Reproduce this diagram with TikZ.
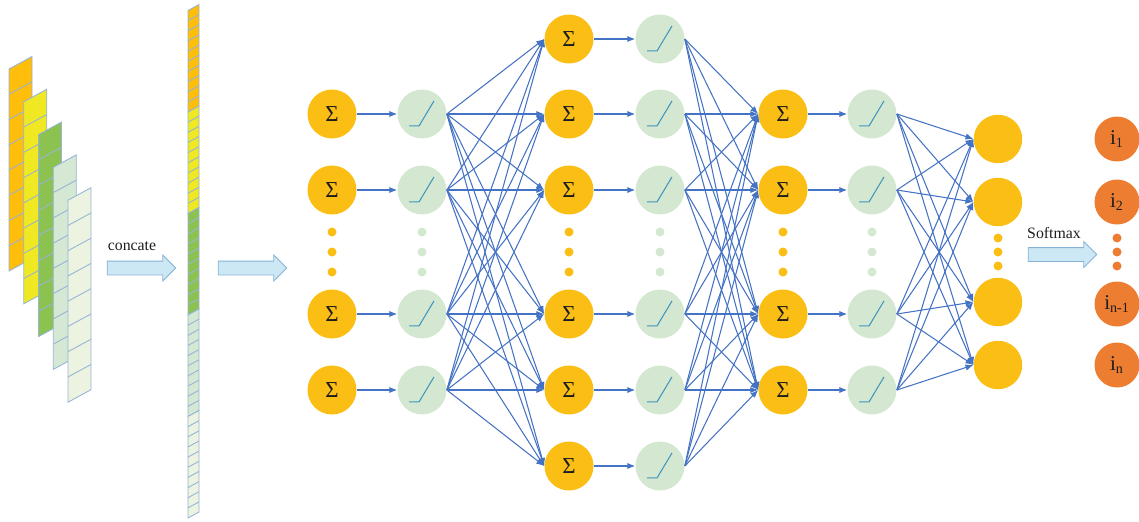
\documentclass[tikz,border=0pt]{standalone}
\usepackage{fontspec}
\setmainfont{Liberation Serif}
\usetikzlibrary{
  arrows.meta,
  shapes.arrows
}
\definecolor{sumcolor}{RGB}{250, 190, 20}
\definecolor{relucolor}{RGB}{212, 231, 208}
\definecolor{reluline}{RGB}{62, 150, 190}
\definecolor{edgecolor}{RGB}{68, 114, 196}
\definecolor{probcolor}{RGB}{237, 125, 49}
\definecolor{arrowfill}{RGB}{205, 232, 245}
\definecolor{arrowdraw}{RGB}{135, 178, 215}
\definecolor{cellline}{RGB}{150, 180, 215}
\definecolor{stripa}{RGB}{255, 190, 10}
\definecolor{stripb}{RGB}{240, 232, 35}
\definecolor{stripc}{RGB}{140, 195, 80}
\definecolor{stripd}{RGB}{213, 232, 212}
\definecolor{stripe}{RGB}{236, 243, 224}
\definecolor{labelcolor}{RGB}{30, 30, 30}
\tikzset{
sumblock/.style={
  circle,
  fill=sumcolor,
  minimum size=0.98cm,
  inner sep=0pt,
  font=\fontsize{13}{15}\selectfont,
  text=labelcolor
},
relublock/.style={
  circle,
  fill=relucolor,
  minimum size=0.98cm,
  inner sep=0pt,
  path picture={
    \draw[reluline, line width=0.6pt]
      ([shift={(-7.4pt,-6.8pt)}]path picture bounding box.center)
      -- ++(5.7pt,0pt) -- ++(8.5pt,14.2pt);
  }
},
outblock/.style={
  circle,
  fill=sumcolor,
  minimum size=0.97cm,
  inner sep=0pt
},
probblock/.style={
  circle,
  fill=probcolor,
  minimum size=0.9cm,
  inner sep=0pt,
  font=\fontsize{12}{14}\selectfont,
  text=labelcolor
},
sumdot/.style={
  circle,
  fill=sumcolor,
  minimum size=0.18cm,
  inner sep=0pt
},
reludot/.style={
  sumdot,
  fill=relucolor
},
probdot/.style={
  sumdot,
  fill=probcolor
},
bigarrow/.style={
  single arrow,
  draw=arrowdraw,
  fill=arrowfill,
  line width=0.5pt,
  minimum height=1.37cm,
  minimum width=0.5cm,
  single arrow head extend=0.12cm,
  inner xsep=0pt,
  inner ysep=0.13cm
},
steplabel/.style={
  font=\fontsize{9}{11}\selectfont,
  text=labelcolor
},
cell/.style={
  draw=cellline,
  line width=0.5pt
},
arrow/.style={
  -{Latex[length=4.5pt,width=3.6pt]},
  line width=0.6pt,
  draw=edgecolor
}
}
\begin{document}
\begin{tikzpicture}[x=0.02cm, y=-0.02cm]
  \useasboundingbox (0,0) rectangle (1139,521);

  % feature strips
  \foreach \c [count=\k from 0] in {stripa,stripb,stripc,stripd,stripe} {
    \pgfmathsetmacro{\sx}{9+14.75*\k}
    \pgfmathsetmacro{\sy}{69+32.8*\k}
    \filldraw[cell, fill=\c] (\sx,\sy) -- ++(23,-12.5) -- ++(0,202) -- ++(-23,12.5) -- cycle;
    \foreach \j in {1,...,7}
      \draw[cell] (\sx,\sy+25.25*\j) -- ++(23,-12.5);
  }

  % concatenated vector
  \foreach \c [count=\k from 0] in {stripa,stripb,stripc,stripd,stripe} {
    \pgfmathsetmacro{\ty}{10.5+101.5*\k}
    \filldraw[cell, fill=\c] (188,\ty) -- ++(11,-6) -- ++(0,101.5) -- ++(-11,6) -- cycle;
    \foreach \j in {1,...,9}
      \draw[cell] (188,\ty+10.15*\j) -- ++(11,-6);
  }

  \node[bigarrow] (cat) at (138,268) {};
  \node[steplabel] (catlabel) at (132,246) {concate};
  \node[bigarrow] (feed) at (249,268) {};

  % layer 1
  \foreach \y [count=\i] in {114,190,314,390} {
    \node[sumblock] (s1-\i) at (332,\y) {Σ};
    \node[relublock] (r1-\i) at (422,\y) {};
    \draw[arrow] (s1-\i) -- (r1-\i);
  }
  % layer 2
  \foreach \y [count=\i] in {39,114,190,314,390,466} {
    \node[sumblock] (s2-\i) at (569,\y) {Σ};
    \node[relublock] (r2-\i) at (660,\y) {};
    \draw[arrow] (s2-\i) -- (r2-\i);
  }
  % layer 3
  \foreach \y [count=\i] in {114,190,314,390} {
    \node[sumblock] (s3-\i) at (783,\y) {Σ};
    \node[relublock] (r3-\i) at (872,\y) {};
    \draw[arrow] (s3-\i) -- (r3-\i);
  }
  % output layer
  \foreach \y [count=\i] in {139,202,302,365}
    \node[outblock] (o-\i) at (998,\y) {};

  % dots
  \foreach \y [count=\k] in {232,252,272} {
    \node[sumdot] (d1-\k) at (332,\y) {};
    \node[reludot] (e1-\k) at (422,\y) {};
    \node[sumdot] (d2-\k) at (569,\y) {};
    \node[reludot] (e2-\k) at (660,\y) {};
    \node[sumdot] (d3-\k) at (783,\y) {};
    \node[reludot] (e3-\k) at (872,\y) {};
  }
  \foreach \y [count=\k] in {238,252,266} {
    \node[sumdot] (od-\k) at (998,\y) {};
    \node[probdot] (pd-\k) at (1117,\y) {};
  }

  % full connections
  \foreach \i in {1,...,4}
    \foreach \j in {1,...,6}
      \draw[arrow] (r1-\i.east) -- (s2-\j.west);
  \foreach \i in {1,...,6}
    \foreach \j in {1,...,4}
      \draw[arrow] (r2-\i.east) -- (s3-\j.west);
  \foreach \i in {1,...,4}
    \foreach \j in {1,...,4}
      \draw[arrow] (r3-\i.east) -- (o-\j.west);

  % softmax
  \node[bigarrow] (soft) at (1059,254.5) {};
  \node[steplabel] (softlabel) at (1054,233) {Softmax};
  \node[probblock] (p-1) at (1117,139) {i\textsubscript{1}};
  \node[probblock] (p-2) at (1117,202) {i\textsubscript{2}};
  \node[probblock] (p-3) at (1117,304) {i\textsubscript{n-1}};
  \node[probblock] (p-4) at (1117,365) {i\textsubscript{n}};
\end{tikzpicture}
\end{document}
